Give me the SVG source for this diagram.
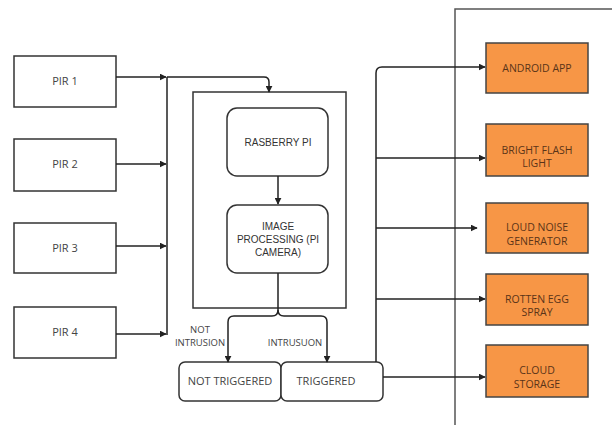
<svg xmlns="http://www.w3.org/2000/svg" width="612" height="425" viewBox="0 0 612 425">
<style>
.box{fill:#fff;stroke:#333;stroke-width:1.5}
.org{fill:#F79646;stroke:#444;stroke-width:1.5}
.t{font-family:"Open Sans","Noto Sans",sans-serif;font-size:11px;fill:#444;text-anchor:middle}
.ta{font-family:"Liberation Sans",Arial,sans-serif;font-size:10px;fill:#333;text-anchor:middle}
.to{font-family:"Open Sans","Noto Sans",sans-serif;font-size:10.5px;fill:#5a3418;text-anchor:middle}
.lb{font-family:"Open Sans","Noto Sans",sans-serif;font-size:9.5px;fill:#444;text-anchor:middle}
.c{fill:none;stroke:#222;stroke-width:1.5}
</style>
<defs>
<marker id="a" viewBox="0 0 10 10" refX="9" refY="5" markerWidth="7" markerHeight="7" orient="auto" markerUnits="userSpaceOnUse"><path d="M0,0 L10,5 L0,10 z" fill="#222"/></marker>
</defs>
<rect width="612" height="425" fill="#fff"/>
<path d="M455,425 V9 H612" fill="none" stroke="#555" stroke-width="1.5"/>
<g id="pir1"><rect class="box" x="14" y="56" width="102" height="51"/><text class="t" x="65" y="85">PIR 1</text></g>
<g id="pir2"><rect class="box" x="14" y="139" width="102" height="52"/><text class="t" x="65" y="168">PIR 2</text></g>
<g id="pir3"><rect class="box" x="14" y="223" width="102" height="50"/><text class="t" x="65" y="252">PIR 3</text></g>
<g id="pir4"><rect class="box" x="14" y="307" width="102" height="51"/><text class="t" x="65" y="336">PIR 4</text></g>
<g id="frame"><rect class="box" x="193" y="92" width="153" height="216"/></g>
<g id="rpi"><rect class="box" x="227" y="108" width="101" height="68" rx="10"/><text class="ta" x="278" y="146">RASBERRY PI</text></g>
<g id="imgproc"><rect class="box" x="227" y="205" width="101" height="68" rx="10"/><text class="ta" x="278" y="230">IMAGE</text><text class="ta" x="278" y="243">PROCESSING (PI</text><text class="ta" x="278" y="256">CAMERA)</text></g>
<g id="nottrig"><rect class="box" x="179" y="362" width="102" height="39" rx="6"/><text class="t" x="230" y="385">NOT TRIGGERED</text></g>
<g id="trig"><rect class="box" x="281" y="362" width="102" height="39" rx="6"/><text class="t" x="326" y="385">TRIGGERED</text></g>
<g id="android"><rect class="org" x="486" y="43" width="102" height="50"/><text class="to" x="537" y="72">ANDROID APP</text></g>
<g id="flash"><rect class="org" x="486" y="124" width="102" height="52"/><text class="to" x="537" y="154">BRIGHT FLASH</text><text class="to" x="537" y="167">LIGHT</text></g>
<g id="noise"><rect class="org" x="486" y="203" width="102" height="50"/><text class="to" x="537" y="231">LOUD NOISE</text><text class="to" x="537" y="245">GENERATOR</text></g>
<g id="egg"><rect class="org" x="486" y="274" width="102" height="51"/><text class="to" x="537" y="303">ROTTEN EGG</text><text class="to" x="537" y="316">SPRAY</text></g>
<g id="cloud"><rect class="org" x="486" y="345" width="102" height="52"/><text class="to" x="537" y="374">CLOUD</text><text class="to" x="537" y="388">STORAGE</text></g>
<g id="labels">
<text class="lb" x="200" y="333">NOT</text>
<text class="lb" x="200" y="346">INTRUSION</text>
<text class="lb" x="295" y="346">INTRUSUON</text>
</g>
<g id="connectors">
<path class="c" d="M167,77 V335"/>
<path class="c" d="M116,77 H166" marker-end="url(#a)"/>
<path class="c" d="M116,164 H166" marker-end="url(#a)"/>
<path class="c" d="M116,246 H166" marker-end="url(#a)"/>
<path class="c" d="M116,334 H166" marker-end="url(#a)"/>
<path class="c" d="M167,77 H264 Q269,77 269,82 V92" marker-end="url(#a)"/>
<path class="c" d="M278,176 V204" marker-end="url(#a)"/>
<path class="c" d="M278,273 V310 Q278,316 272,316 H234 Q228,316 228,322 V362" marker-end="url(#a)"/>
<path class="c" d="M278,310 Q278,316 284,316 H321 Q327,316 327,322 V362" marker-end="url(#a)"/>
<path class="c" d="M376,362 V73 Q376,67 382,67 H485" marker-end="url(#a)"/>
<path class="c" d="M376,158 H485" marker-end="url(#a)"/>
<path class="c" d="M376,228 H477" marker-end="url(#a)"/>
<path class="c" d="M376,299 H485" marker-end="url(#a)"/>
<path class="c" d="M383,377 H485" marker-end="url(#a)"/>
</g>
</svg>
